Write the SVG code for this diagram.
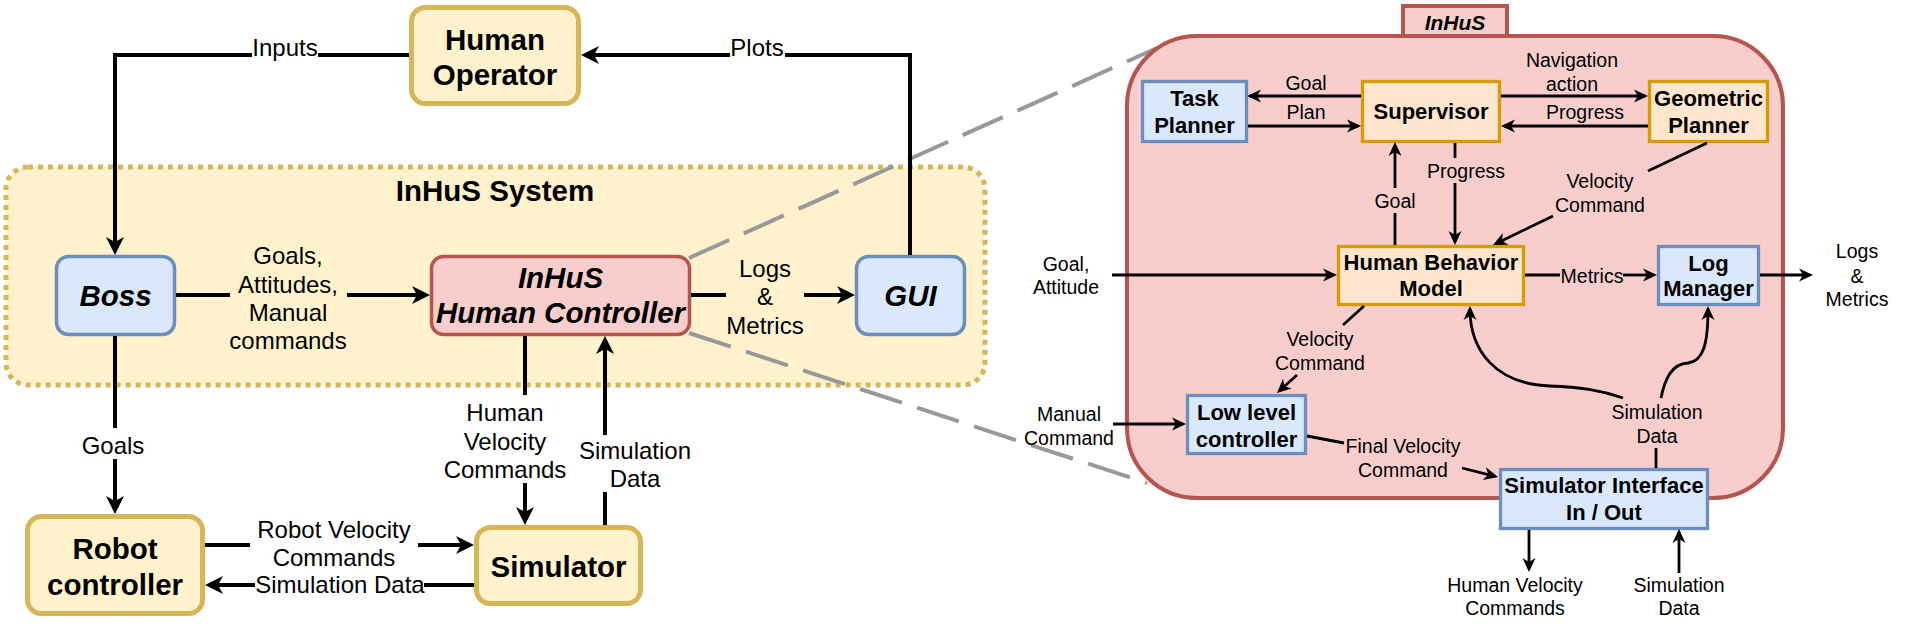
<svg xmlns="http://www.w3.org/2000/svg" width="1932" height="644" viewBox="0 0 1932 644">
<style>
text{font-family:"Liberation Sans",Arial,Helvetica,sans-serif;fill:#000;text-anchor:middle}
.t{font-size:29.5px;font-weight:bold}
.ti{font-size:29.5px;font-weight:bold;font-style:italic}
.tr{font-size:22px;font-weight:bold}
.l{font-size:24px}
.lr{font-size:19.5px}
.yel{fill:#fff2cc;stroke:#d6b656}
.blu{fill:#dae8fc;stroke:#6c8ebf}
.red{fill:#f8cecc;stroke:#b85450}
.org{fill:#ffe6cc;stroke:#d79b00}
.e{fill:none;stroke:#000;stroke-width:4}
.ea{fill:none;stroke:#000;stroke-width:4;marker-end:url(#aL)}
.r{fill:none;stroke:#000;stroke-width:2.8}
.ra{fill:none;stroke:#000;stroke-width:2.8;marker-end:url(#aR)}
.dash{fill:none;stroke:#999999;stroke-width:4;stroke-dasharray:44 16}
</style>
<defs>
<marker id="aL" markerUnits="userSpaceOnUse" markerWidth="18" markerHeight="18" refX="14" refY="9" orient="auto" overflow="visible">
<path d="M0,0 L18,9 L0,18 L5,9 z" fill="#000"/>
</marker>
<marker id="aR" markerUnits="userSpaceOnUse" markerWidth="14" markerHeight="13" refX="11" refY="6.5" orient="auto" overflow="visible">
<path d="M0,0 L14,6.5 L0,13 L4,6.5 z" fill="#000"/>
</marker>
</defs>
<rect width="1932" height="644" fill="#ffffff"/>

<g id="inhus-system">
<rect x="6" y="167" width="979" height="218" rx="22" fill="#fff2cc" stroke="#d6b656" stroke-width="5" stroke-dasharray="5 5"/>
<text class="t" x="495" y="201">InHuS System</text>
</g>

<g id="zoom-lines">
<path class="dash" d="M689,258 L1157,48"/>
<path class="dash" d="M689,333 L1147,483"/>
</g>

<g id="inhus-panel">
<rect class="red" x="1403" y="6" width="104" height="32" stroke-width="4"/>
<rect class="red" x="1127" y="36" width="656" height="462" rx="70" stroke-width="4"/>
<text x="1455" y="30" style="font-size:21px;font-weight:bold;font-style:italic">InHuS</text>
</g>

<g id="human-operator">
<rect class="yel" x="411.5" y="7.5" width="167" height="96" rx="14" stroke-width="5"/>
<text class="t" x="495" y="50">Human</text>
<text class="t" x="495" y="85">Operator</text>
</g>

<g id="boss">
<rect class="blu" x="56.5" y="256.5" width="118" height="78" rx="12" stroke-width="3.5"/>
<text class="ti" x="115.5" y="306">Boss</text>
</g>

<g id="human-controller">
<rect class="red" x="431.5" y="256.5" width="258" height="78" rx="12" stroke-width="3.5"/>
<text class="ti" x="560.5" y="288">InHuS</text>
<text class="ti" x="560.5" y="323">Human Controller</text>
</g>

<g id="gui">
<rect class="blu" x="856.5" y="256.5" width="108" height="78" rx="12" stroke-width="3.5"/>
<text class="ti" x="910.5" y="306">GUI</text>
</g>

<g id="robot-controller">
<rect class="yel" x="27.5" y="516.5" width="175" height="97" rx="14" stroke-width="5"/>
<text class="t" x="115" y="559">Robot</text>
<text class="t" x="115" y="595">controller</text>
</g>

<g id="simulator">
<rect class="yel" x="476.5" y="527.5" width="164" height="76" rx="14" stroke-width="5"/>
<text class="t" x="558.5" y="577">Simulator</text>
</g>

<g id="task-planner">
<rect class="blu" x="1142.5" y="81.5" width="104" height="60" stroke-width="3.3"/>
<text class="tr" x="1194.5" y="106">Task</text>
<text class="tr" x="1194.5" y="133">Planner</text>
</g>

<g id="supervisor">
<rect class="org" x="1362.5" y="81.5" width="137" height="60" stroke-width="3.3"/>
<text class="tr" x="1431" y="119">Supervisor</text>
</g>

<g id="geometric-planner">
<rect class="org" x="1649.5" y="81.5" width="118" height="60" stroke-width="3.3"/>
<text class="tr" x="1708.5" y="106">Geometric</text>
<text class="tr" x="1708.5" y="133">Planner</text>
</g>

<g id="human-behavior-model">
<rect class="org" x="1338.5" y="246.5" width="185" height="58" stroke-width="3.3"/>
<text class="tr" x="1431" y="270">Human Behavior</text>
<text class="tr" x="1431" y="296">Model</text>
</g>

<g id="log-manager">
<rect class="blu" x="1658.5" y="246.5" width="100" height="58" stroke-width="3.3"/>
<text class="tr" x="1708.5" y="271">Log</text>
<text class="tr" x="1708.5" y="296">Manager</text>
</g>

<g id="low-level-controller">
<rect class="blu" x="1187.5" y="395.5" width="118" height="58" stroke-width="3.3"/>
<text class="tr" x="1246.5" y="420">Low level</text>
<text class="tr" x="1246.5" y="447">controller</text>
</g>

<g id="simulator-interface">
<rect class="blu" x="1500.5" y="469.5" width="207" height="59" stroke-width="3.3"/>
<text class="tr" x="1604" y="493">Simulator Interface</text>
<text class="tr" x="1604" y="520">In / Out</text>
</g>

<g id="connectors">
<!-- left -->
<path class="e" d="M409,55 H318"/>
<path class="ea" d="M252,55 H115 V251"/>
<text class="l" x="285" y="56">Inputs</text>

<path class="e" d="M910,255 V55 H785"/>
<path class="ea" d="M730,55 H585"/>
<text class="l" x="757" y="56">Plots</text>

<path class="e" d="M176,295 H230"/>
<path class="ea" d="M347,295 H426"/>
<text class="l" x="288" y="264">Goals,</text>
<text class="l" x="288" y="293">Attitudes,</text>
<text class="l" x="288" y="321">Manual</text>
<text class="l" x="288" y="349">commands</text>

<path class="e" d="M691,295 H726"/>
<path class="ea" d="M804,295 H851"/>
<text class="l" x="765" y="277">Logs</text>
<text class="l" x="765" y="305">&amp;</text>
<text class="l" x="765" y="334">Metrics</text>

<path class="e" d="M115,336 V428"/>
<path class="ea" d="M115,459 V510"/>
<text class="l" x="113" y="454">Goals</text>

<path class="e" d="M525,336 V395"/>
<path class="ea" d="M525,483 V521"/>
<text class="l" x="505" y="421">Human</text>
<text class="l" x="505" y="450">Velocity</text>
<text class="l" x="505" y="478">Commands</text>

<path class="e" d="M605,525 V492"/>
<path class="ea" d="M605,435 V340"/>
<text class="l" x="635" y="459">Simulation</text>
<text class="l" x="635" y="487">Data</text>

<path class="e" d="M205,545 H250"/>
<path class="ea" d="M418,545 H470"/>
<text class="l" x="334" y="538">Robot Velocity</text>
<text class="l" x="334" y="566">Commands</text>

<path class="e" d="M474,585 H424"/>
<path class="ea" d="M255,585 H209"/>
<text class="l" x="340" y="593">Simulation Data</text>

<!-- right -->
<path class="ra" d="M1361,96 H1250"/>
<text class="lr" x="1306" y="90">Goal</text>
<path class="ra" d="M1248,126 H1358"/>
<text class="lr" x="1306" y="119">Plan</text>
<path class="ra" d="M1501,96 H1645"/>
<text class="lr" x="1572" y="67">Navigation</text>
<text class="lr" x="1572" y="91">action</text>
<path class="ra" d="M1648,126 H1504"/>
<text class="lr" x="1585" y="119">Progress</text>

<path class="r" d="M1395,245 V213"/>
<path class="ra" d="M1395,188 V145"/>
<text class="lr" x="1395" y="208">Goal</text>
<path class="r" d="M1455,143 V158"/>
<path class="ra" d="M1455,183 V242"/>
<text class="lr" x="1466" y="178">Progress</text>

<path class="r" d="M1707,143 L1648,171"/>
<path class="ra" d="M1553,216 L1495.7,243.7"/>
<text class="lr" x="1600" y="188">Velocity</text>
<text class="lr" x="1600" y="212">Command</text>

<path class="ra" d="M1112,275 H1334"/>
<text class="lr" x="1066" y="271">Goal,</text>
<text class="lr" x="1066" y="294">Attitude</text>

<path class="r" d="M1525,275 H1560"/>
<path class="ra" d="M1623,275 H1654"/>
<text class="lr" x="1592" y="283">Metrics</text>

<path class="ra" d="M1760,275 H1810"/>
<text class="lr" x="1857" y="258">Logs</text>
<text class="lr" x="1857" y="283">&amp;</text>
<text class="lr" x="1857" y="306">Metrics</text>

<path class="r" d="M1364,306 L1343,325"/>
<path class="ra" d="M1297,375 L1279.2,391"/>
<text class="lr" x="1320" y="346">Velocity</text>
<text class="lr" x="1320" y="370">Command</text>

<path class="ra" d="M1113,424 H1183"/>
<text class="lr" x="1069" y="421">Manual</text>
<text class="lr" x="1069" y="445">Command</text>

<path class="r" d="M1307,436 L1344,443"/>
<path class="ra" d="M1462,468 L1495.1,476.3"/>
<text class="lr" x="1403" y="453">Final Velocity</text>
<text class="lr" x="1403" y="477">Command</text>

<path class="r" d="M1656,468 V448"/>
<path class="ra" d="M1623,398 C1600,390 1580,387 1550,386 C1495,384 1470,350 1470,309"/>
<path class="ra" d="M1661,398 C1665,378 1672,364 1688,363 C1703,361 1708,345 1708,309"/>
<text class="lr" x="1657" y="419">Simulation</text>
<text class="lr" x="1657" y="443">Data</text>

<path class="ra" d="M1529,530 V569"/>
<text class="lr" x="1515" y="592">Human Velocity</text>
<text class="lr" x="1515" y="615">Commands</text>

<path class="ra" d="M1679,573 V532"/>
<text class="lr" x="1679" y="592">Simulation</text>
<text class="lr" x="1679" y="615">Data</text>
</g>
</svg>
